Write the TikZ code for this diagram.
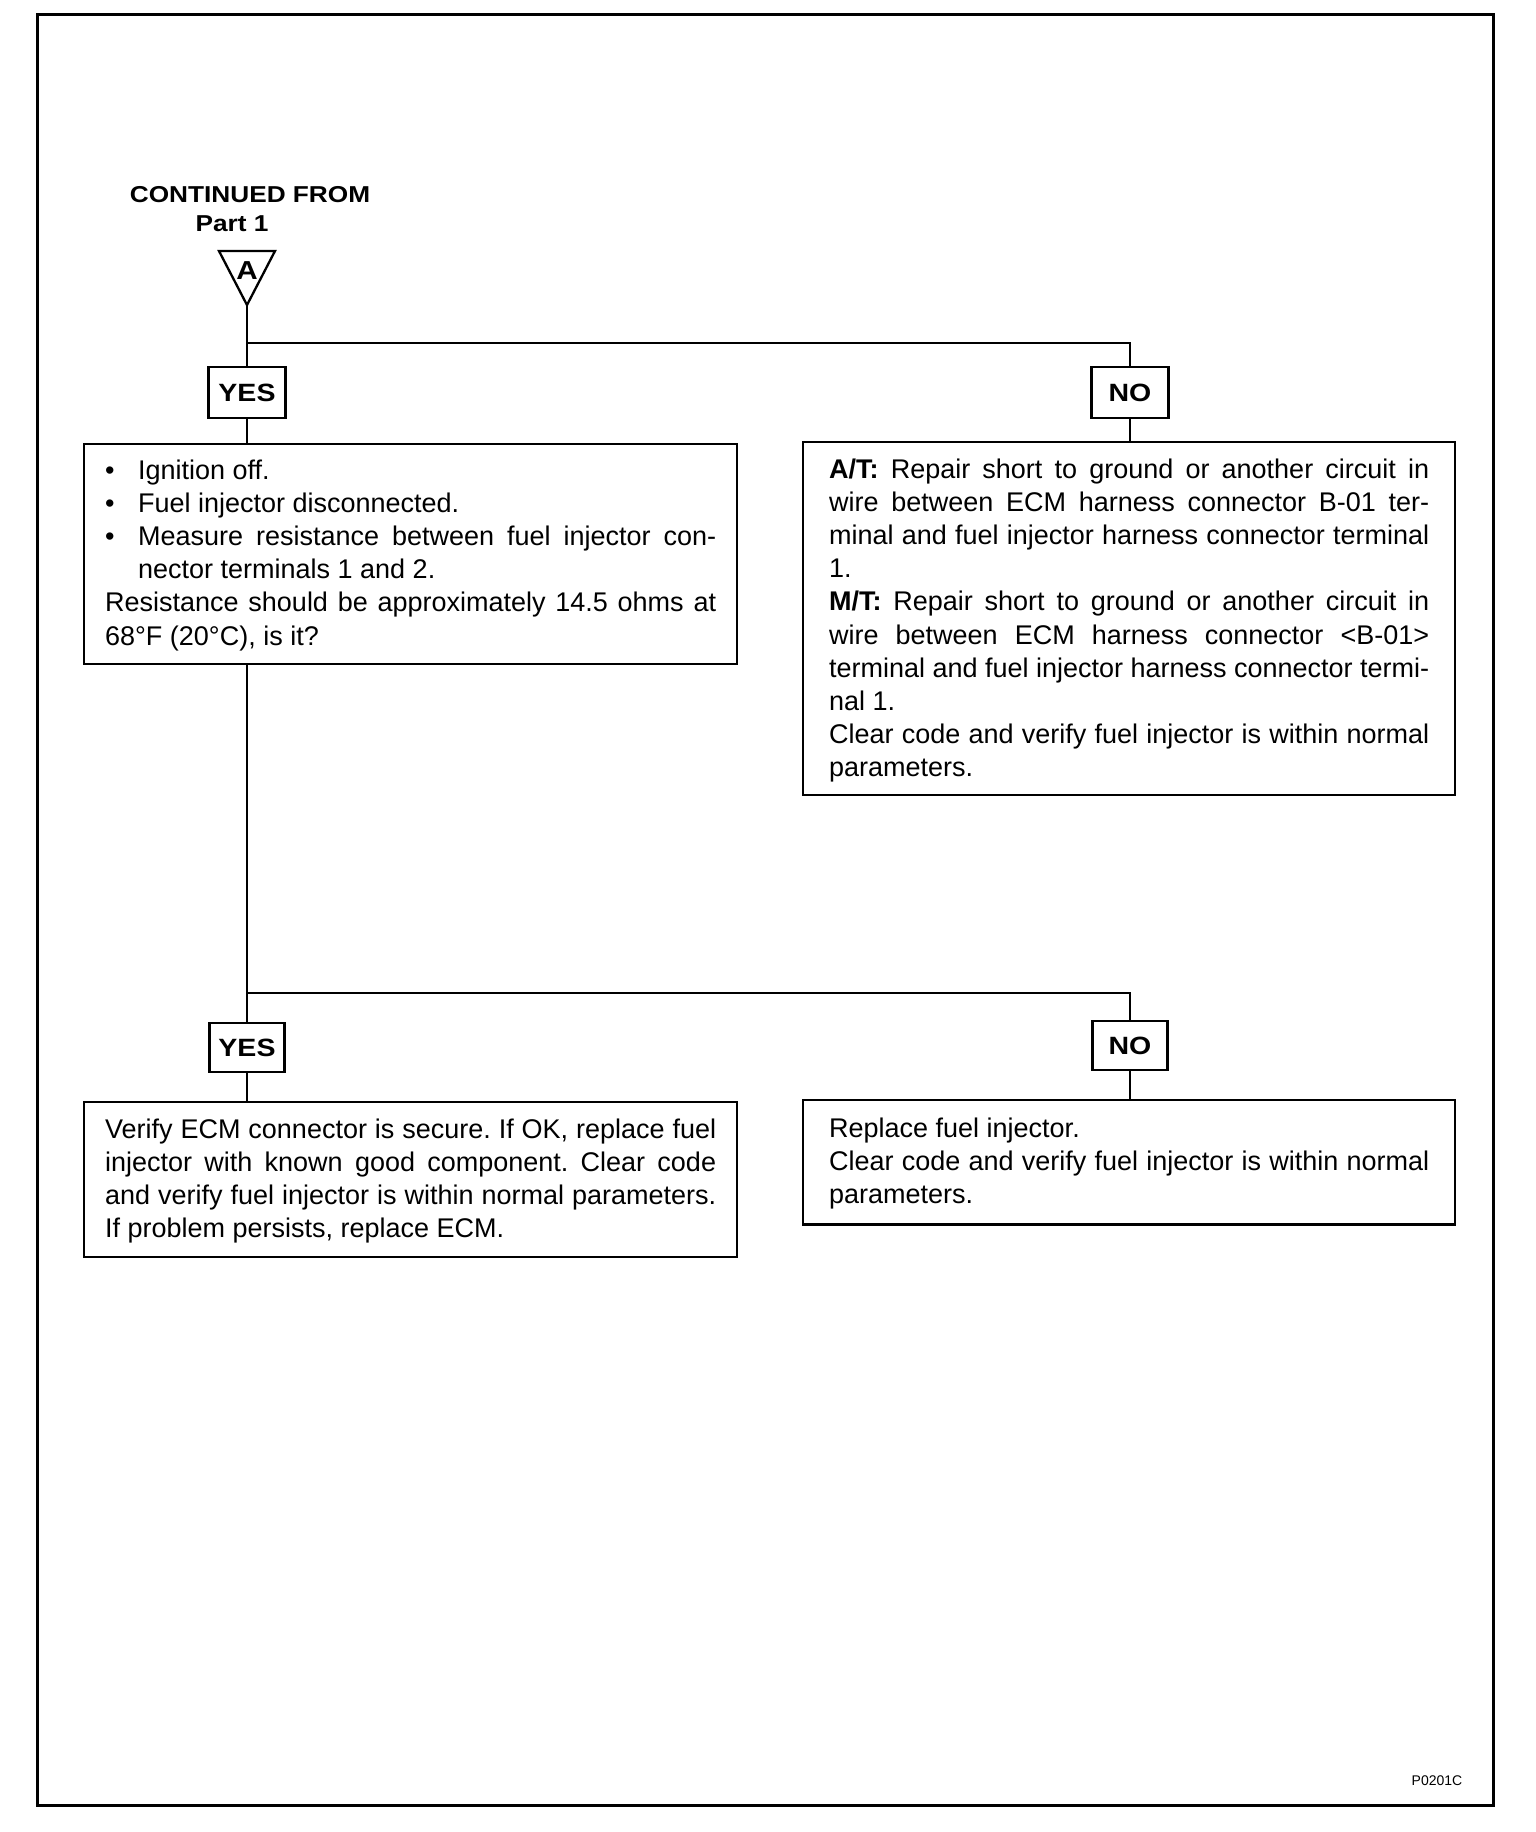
\documentclass[tikz,border=0pt]{standalone}
\usepackage{fontspec}
\setmainfont{Liberation Sans}
\newfontfamily\labfont[FakeStretch=1.14]{Liberation Sans}
\newlength\lw
\newcommand\bodyf{\fontsize{27pt}{33.2pt}\selectfont}
\newcommand\bsetup[1]{\setlength\lw{#1pt}\spaceskip=0pt\xspaceskip=0pt\rightskip=0pt\frenchspacing\parindent=0pt\parskip=0pt\lineskiplimit=-100pt\lineskip=0pt}
\newcommand\LJ[1]{\makebox[\lw][s]{#1}\par}
\newcommand\LL[1]{\makebox[\lw][l]{#1}\par}
\newcommand\Top[1]{\rule{0pt}{#1pt}}
\newcommand\Bot[1]{\rule[-#1pt]{0pt}{#1pt}}
\newcommand\bul{\makebox[33pt][l]{•}}
\begin{document}
\begin{tikzpicture}[x=1pt,y=-1pt,
  conn/.style={line width=2.3pt},
  tbox/.style={draw,line width=2.3pt,anchor=north west,inner ysep=0pt,font=\bodyf,align=justify},
  lbl/.style={draw,line width=2.3pt,minimum width=77pt,minimum height=51pt,inner sep=0pt,font=\labfont\bfseries\fontsize{25pt}{30pt}\selectfont},
  head/.style={anchor=base,inner sep=0pt,font=\labfont\bfseries\fontsize{23pt}{26pt}\selectfont}]
\useasboundingbox (0,0) rectangle (1536,1832);
\draw[line width=3pt] (37,14) rectangle (1493,1805);

\node[head] (cf) at (250,202) {CONTINUED FROM};
\node[head] (p1) at (232,231) {Part 1};
\coordinate (tl) at (219,251);
\coordinate (tr) at (275,251);
\coordinate (ap) at (247,305);
\draw[conn,line join=miter] (tl) -- (tr) -- (ap) -- cycle;
\node[head,font=\labfont\bfseries\fontsize{26pt}{30pt}\selectfont] (a) at (247,279) {A};

\node[lbl] (yes1) at (247,392.5) {YES};
\node[lbl] (no1) at (1130,392.5) {NO};
\node[lbl,minimum height=49pt,minimum width=75pt] (yes2) at (247,1047.5) {YES};
\node[lbl,minimum height=49pt,minimum width=75pt] (no2) at (1130,1045.5) {NO};

\node[tbox,inner xsep=21pt,text width=611pt] (b1) at (83,443) {\bsetup{611}%
\LL{\Top{35}\bul Ignition off.}
\LL{\bul Fuel injector disconnected.}
\LJ{\bul Measure resistance between fuel injector con-}
\LL{\hspace*{33pt}nector terminals 1 and 2.}
\LJ{Resistance should be approximately 14.5 ohms at}
\LL{68°F (20°C), is it?\Bot{19}}};

\node[tbox,inner xsep=26pt,text width=600pt] (b2) at (802,441) {\bsetup{600}%
\LJ{\Top{36}\textbf{A/T:} Repair short to ground or another circuit in}
\LJ{wire between ECM harness connector B-01 ter-}
\LJ{minal and fuel injector harness connector terminal}
\LL{1.}
\LJ{\textbf{M/T:} Repair short to ground or another circuit in}
\LJ{wire between ECM harness connector <B-01>}
\LJ{terminal and fuel injector harness connector termi-}
\LL{nal 1.}
\LJ{Clear code and verify fuel injector is within normal}
\LL{parameters.\Bot{18}}};

\node[tbox,inner xsep=21pt,text width=611pt] (b3) at (83,1101) {\bsetup{611}%
\LJ{\Top{36}Verify ECM connector is secure. If OK, replace fuel}
\LJ{injector with known good component. Clear code}
\LJ{and verify fuel injector is within normal parameters.}
\LL{If problem persists, replace ECM.\Bot{19.5}}};

\node[tbox,inner xsep=26pt,text width=600pt] (b4) at (802,1099) {\bsetup{600}%
\LL{\Top{37}Replace fuel injector.}
\LJ{Clear code and verify fuel injector is within normal}
\LL{parameters.\Bot{21}}};

\node[anchor=base,inner sep=0pt,font=\fontsize{14pt}{16pt}\selectfont] (code) at (1437,1785) {P0201C};

\coordinate (s1) at (247,343);
\coordinate (s2) at (247,993);
\draw[conn] (ap) -- (yes1.north);
\draw[conn] (s1) -| (no1.north);
\draw[conn] (yes1.south) -- (yes1.south |- b1.north);
\draw[conn] (no1.south) -- (no1.south |- b2.north);
\draw[conn] (yes1.south |- b1.south) -- (yes2.north);
\draw[conn] (s2) -| (no2.north);
\draw[conn] (yes2.south) -- (yes2.south |- b3.north);
\draw[conn] (no2.south) -- (no2.south |- b4.north);
\end{tikzpicture}
\end{document}
